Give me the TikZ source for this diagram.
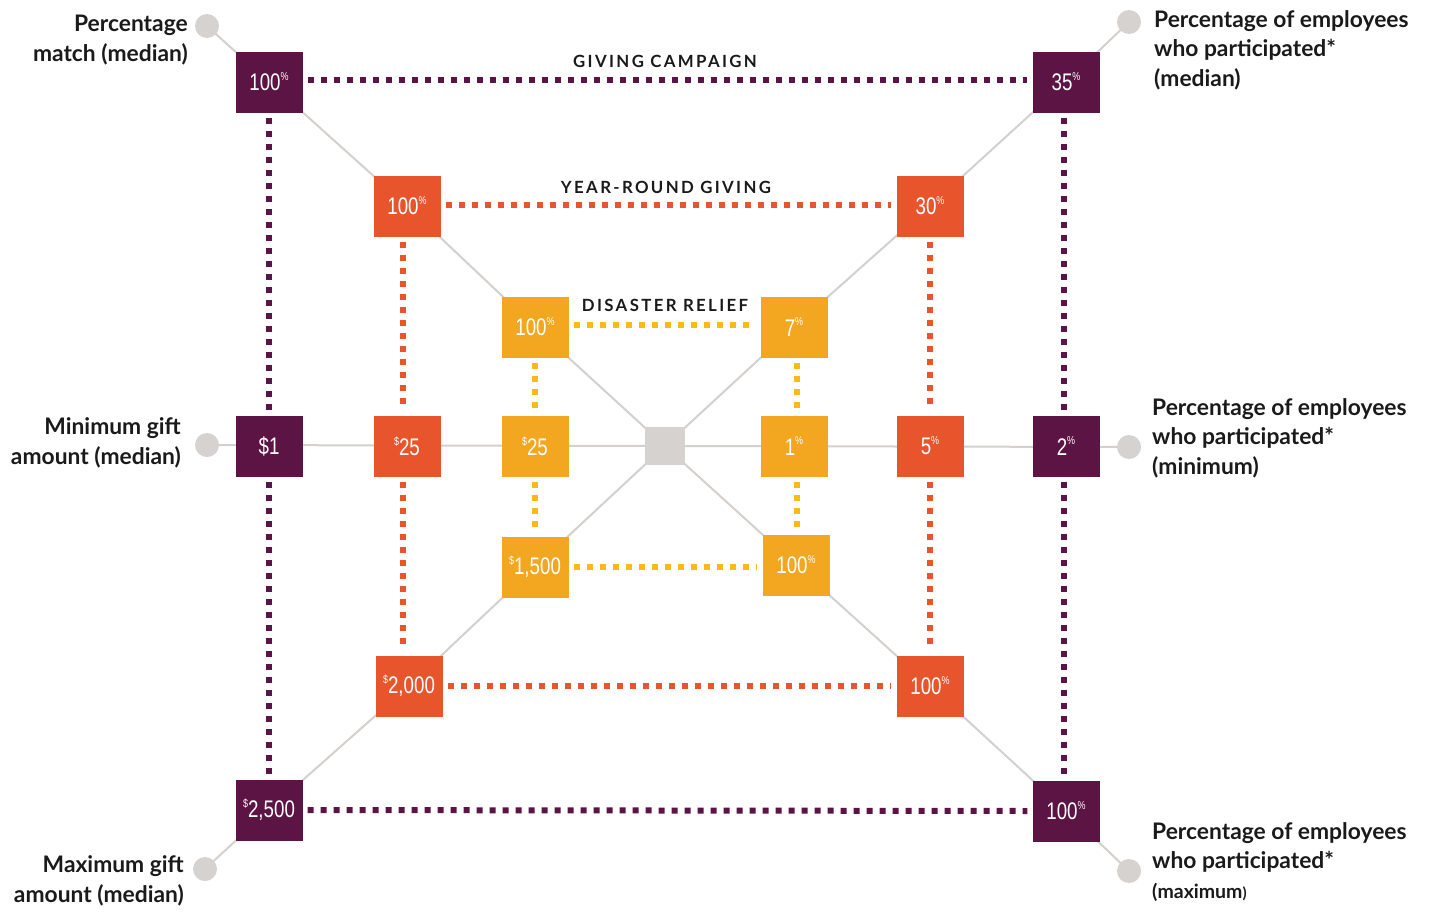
\documentclass[tikz,border=0pt]{standalone}
\usepackage{fontspec}
\setmainfont{Lato}
\newfontfamily\numfont[FakeStretch=0.78]{Liberation Sans}
\newfontfamily\ttlfont[LetterSpace=14]{Lato}
\usetikzlibrary{backgrounds}
\definecolor{purp}{HTML}{5C1445}
\definecolor{redo}{HTML}{E8552D}
\definecolor{yel}{HTML}{F3A620}
\definecolor{yeld}{HTML}{FDBA17}
\definecolor{gl}{HTML}{D3D0CE}
\definecolor{gc}{HTML}{D6D2CF}
\definecolor{txt}{HTML}{1A1A1A}
\newcommand\pc[1]{#1\raisebox{0.42em}{\fontsize{11.5}{11.5}\selectfont\%}}
\newcommand\dl[1]{\raisebox{0.42em}{\fontsize{11.5}{11.5}\selectfont\$}#1}
\tikzset{
  box/.style={minimum width=67pt, minimum height=61pt, inner sep=0pt, text=white,
              font=\numfont\fontsize{24}{26}\selectfont},
  pbox/.style={box, fill=purp},
  rbox/.style={box, fill=redo},
  ybox/.style={box, fill=yel},
  gdot/.style={circle, fill=gc, minimum size=24pt, inner sep=0pt},
  gline/.style={draw=gl, line width=2pt},
  pdots/.style={draw=purp, line width=6pt, dash pattern=on 6pt off 7pt, shorten <=5pt, shorten >=5pt},
  rdots/.style={draw=redo, line width=6pt, dash pattern=on 6pt off 7pt, shorten <=5pt, shorten >=5pt},
  ydots/.style={draw=yeld, line width=6pt, dash pattern=on 6pt off 7pt, shorten <=5pt, shorten >=5pt},
  lab/.style={inner sep=0pt, text=txt, font=\bfseries\fontsize{22.8}{29.5}\selectfont},
  ttl/.style={inner sep=0pt, text=txt, font=\ttlfont\bfseries\fontsize{16.8}{18}\selectfont},
}
\begin{document}
\begin{tikzpicture}[x=1pt, y=-1pt]
\useasboundingbox (0,0) rectangle (1429,911);
% outer purple
\node[pbox] (p1) at (269,82) {\pc{100}};
\node[pbox] (p2) at (1066,82) {\pc{35}};
\node[pbox] (pL) at (269,446) {\$1};
\node[pbox] (pR) at (1066,446) {\pc{2}};
\node[pbox] (p3) at (269,810) {\dl{2,500}};
\node[pbox] (p4) at (1066,811) {\pc{100}};
% red
\node[rbox] (r1) at (407,206) {\pc{100}};
\node[rbox] (r2) at (930,206) {\pc{30}};
\node[rbox] (rL) at (407,446) {\dl{25}};
\node[rbox] (rR) at (930,446) {\pc{5}};
\node[rbox] (r3) at (409,686) {\dl{2,000}};
\node[rbox] (r4) at (930,686) {\pc{100}};
% yellow
\node[ybox] (y1) at (535,327) {\pc{100}};
\node[ybox] (y2) at (794,327) {\pc{7}};
\node[ybox] (yL) at (535,446) {\dl{25}};
\node[ybox] (yR) at (794,446) {\pc{1}};
\node[ybox] (y3) at (535,567) {\dl{1,500}};
\node[ybox] (y4) at (796,565) {\pc{100}};
% center
\node[fill=gc, minimum width=40pt, minimum height=38pt, inner sep=0pt] (ctr) at (665,446) {};
% circles
\node[gdot] (c1) at (207,26) {};
\node[gdot] (c2) at (1129,22) {};
\node[gdot] (cL) at (207,445) {};
\node[gdot] (cR) at (1129,447) {};
\node[gdot] (c3) at (205,869) {};
\node[gdot] (c4) at (1129,871) {};
% titles
\node[ttl] (t1) at (665,61) {GIVING CAMPAIGN};
\node[ttl] (t2) at (666,187) {YEAR-ROUND GIVING};
\node[ttl] (t3) at (665,305) {DISASTER RELIEF};
% labels
\node[lab, anchor=east, align=right] (l1) at (188,40) {Percentage\\match (median)};
\node[lab, anchor=east, align=right] (lL) at (181,443) {Minimum gift\\amount (median)};
\node[lab, anchor=east, align=right] (l3) at (184,881) {Maximum gift\\amount (median)};
\node[lab, anchor=west, align=left] (l2) at (1154,50) {Percentage of employees\\who participated*\\(median)};
\node[lab, anchor=west, align=left] (lR) at (1152,438) {Percentage of employees\\who participated*\\(minimum)};
\node[lab, anchor=west, align=left] (l4) at (1152,862) {Percentage of employees\\who participated*\\{\fontsize{19.5}{22}\selectfont(maximum}{\fontsize{15}{18}\selectfont)}};
\begin{scope}[on background layer]
  \draw[gline] (c1.center) -- (p1.center) -- (r1.center) -- (y1.center) -- (ctr.center);
  \draw[gline] (c2.center) -- (p2.center) -- (r2.center) -- (y2.center) -- (ctr.center);
  \draw[gline] (c3.center) -- (p3.center) -- (r3.center) -- (y3.center) -- (ctr.center);
  \draw[gline] (c4.center) -- (p4.center) -- (r4.center) -- (y4.center) -- (ctr.center);
  \draw[gline] (cL.center) -- (cR.center);
  % purple dotted
  \draw[pdots] ([yshift=2pt]p1.east) -- ([yshift=2pt]p2.west);
  \draw[pdots] (p3.east) -- (p4.west);
  \draw[pdots] (p1.south) -- (pL.north);
  \draw[pdots] (pL.south) -- (p3.north);
  \draw[pdots] ([xshift=-2pt]p2.south) -- ([xshift=-2pt]pR.north);
  \draw[pdots] ([xshift=-2pt]pR.south) -- ([xshift=-2pt]p4.north);
  % red dotted
  \draw[rdots] ([yshift=1pt]r1.east) -- ([yshift=1pt]r2.west);
  \draw[rdots] (r3.east) -- (r4.west);
  \draw[rdots] ([xshift=-4pt]r1.south) -- ([xshift=-4pt]rL.north);
  \draw[rdots] ([xshift=-4pt]rL.south) -- ([xshift=-6pt]r3.north);
  \draw[rdots] (r2.south) -- (rR.north);
  \draw[rdots] (rR.south) -- (r4.north);
  % yellow dotted
  \draw[ydots] ([yshift=2pt]y1.east) -- ([yshift=2pt]y2.west);
  \draw[ydots] (y3.east) -- ([yshift=-2pt]y4.west);
  \draw[ydots] (y1.south) -- (yL.north);
  \draw[ydots] (yL.south) -- (y3.north);
  \draw[ydots] ([xshift=3pt]y2.south) -- ([xshift=3pt]yR.north);
  \draw[ydots] ([xshift=3pt]yR.south) -- ([xshift=1pt]y4.north);
\end{scope}
\end{tikzpicture}
\end{document}
